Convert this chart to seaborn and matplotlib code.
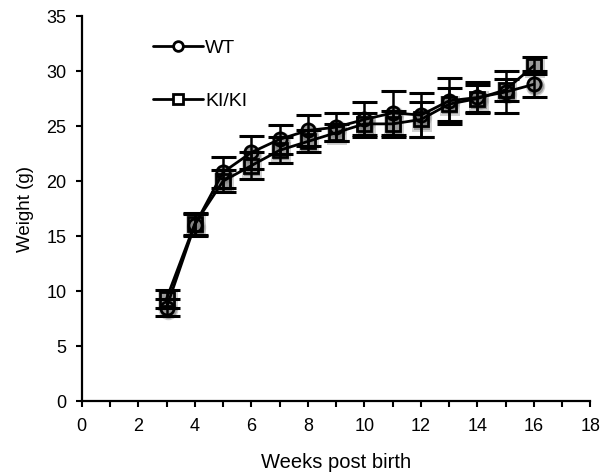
import numpy as np
import pandas as pd
import matplotlib
matplotlib.use("Agg")
import matplotlib.pyplot as plt
import seaborn as sns
from matplotlib.lines import Line2D

weeks = [3, 4, 5, 6, 7, 8, 9, 10, 11, 12, 13, 14, 15, 16]
wt_mean = [8.5, 16.0, 20.8, 22.6, 23.8, 24.6, 24.9, 25.6, 26.2, 26.0, 27.3, 27.6, 28.1, 28.8]
wt_err = [0.8, 1.0, 1.4, 1.5, 1.3, 1.4, 1.3, 1.6, 2.0, 2.0, 2.1, 1.4, 1.9, 1.2]
ki_mean = [9.3, 16.1, 20.0, 21.4, 22.8, 23.6, 24.4, 25.2, 25.2, 25.6, 27.0, 27.5, 28.3, 30.5]
ki_err = [0.8, 1.0, 1.0, 1.2, 1.2, 1.0, 0.8, 1.0, 1.2, 1.6, 1.5, 1.2, 1.0, 0.8]
groups = ["WT", "KI/KI"]

df = pd.DataFrame({
    "week": weeks * 2,
    "weight": wt_mean + ki_mean,
    "err": wt_err + ki_err,
    "group": [groups[0]] * len(weeks) + [groups[1]] * len(weeks),
})

sns.set_style("ticks")
plt.rcParams["font.family"] = ["Liberation Sans", "DejaVu Sans"]
plt.rcParams["text.color"] = "black"
plt.rcParams["axes.labelcolor"] = "black"
plt.rcParams["xtick.color"] = "black"
plt.rcParams["ytick.color"] = "black"

fig = plt.figure(figsize=(6.1, 4.74), dpi=100)
ax = fig.add_axes([0.134, 0.154, 0.834, 0.812])

markers = {"WT": "o", "KI/KI": "s"}
for g in groups:
    sub = df[df.group == g]
    # soft shadow
    ax.plot(sub.week + 0.04, sub.weight - 0.2, linestyle="none", marker=markers[g],
            markersize=14, color="#999999", alpha=0.45, markeredgewidth=0, zorder=2)
    ax.plot(sub.week + 0.04, sub.weight - 0.2, linestyle="none", marker=markers[g],
            markersize=12, color="#777777", alpha=0.6, markeredgewidth=0, zorder=2)
    ax.errorbar(sub.week, sub.weight, yerr=sub.err, fmt="none", ecolor="black",
                elinewidth=1.8, capsize=9, capthick=2.2, zorder=4)

sns.lineplot(data=df, x="week", y="weight", hue="group", style="group",
             markers=markers, dashes=False, palette={"WT": "black", "KI/KI": "black"},
             linewidth=2, markersize=9.5, markerfacecolor="none", markeredgecolor="black",
             markeredgewidth=2, legend=False, ax=ax, zorder=5)

ax.set_xlim(0, 18)
ax.set_ylim(0, 35)
ax.set_xticks(range(0, 19, 2))
ax.set_xticks(range(0, 19, 1), minor=True)
ax.set_yticks(range(0, 36, 5))
ax.tick_params(axis="both", which="both", direction="out", width=1.5, colors="black",
               labelcolor="black", labelsize=13)
ax.tick_params(axis="both", which="major", length=4)
ax.tick_params(axis="x", which="minor", length=4)
ax.tick_params(axis="x", which="major", pad=8)
ax.tick_params(axis="y", which="major", pad=7)
for s in ["top", "right"]:
    ax.spines[s].set_visible(False)
for s in ["left", "bottom"]:
    ax.spines[s].set_linewidth(1.6)
    ax.spines[s].set_color("black")
ax.set_xlabel("Weeks post birth", fontsize=14.5, labelpad=13, color="black")
ax.set_ylabel("Weight (g)", fontsize=13.5, labelpad=9, color="black")

handles = [Line2D([], [], color="black", lw=2, marker=markers[g], markersize=7,
                  markerfacecolor="white", markeredgewidth=2) for g in groups]
leg = ax.legend(handles, groups, loc="upper left", bbox_to_anchor=(0.105, 0.985),
                frameon=False, fontsize=14, labelspacing=1.8, handlelength=2.6,
                handletextpad=0.1)
for t in leg.get_texts():
    t.set_color("black")

fig.savefig("out.png", dpi=100)
